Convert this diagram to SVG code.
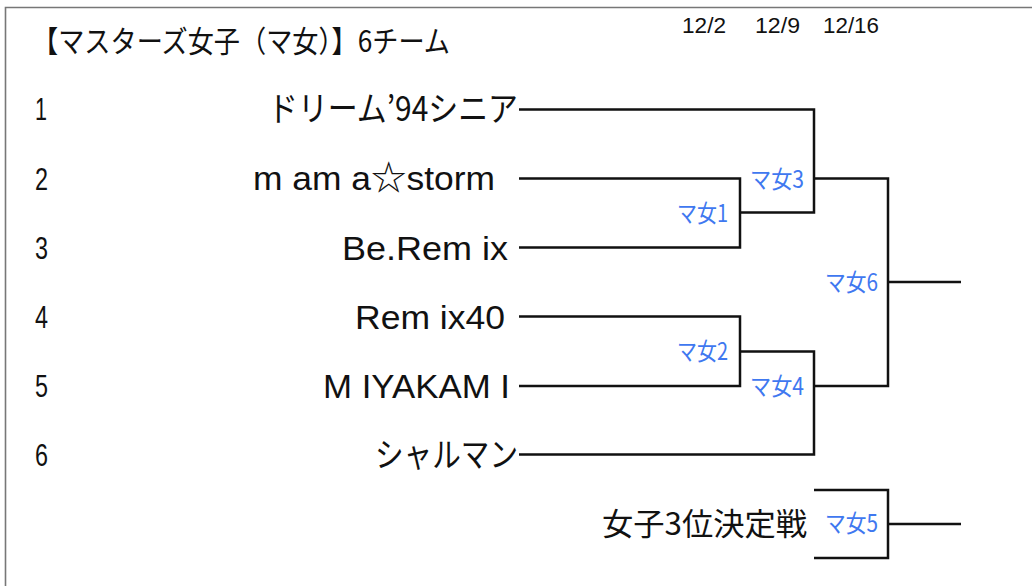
<svg xmlns="http://www.w3.org/2000/svg" width="1032" height="586" viewBox="0 0 1032 586">
<style>
.t{font-family:"Liberation Sans","Noto Sans CJK JP",sans-serif;fill:#111;}
.j{font-family:"Noto Sans CJK JP","Liberation Sans",sans-serif;fill:#111;}
.n{font-size:31px;}
.tn{font-size:34px;}
.b{font-family:"Noto Sans CJK JP","Liberation Sans",sans-serif;font-size:24px;fill:#3f78f0;}
.d{font-family:"Liberation Sans",sans-serif;font-size:22px;fill:#111;}
.ln{fill:none;stroke:#111;stroke-width:2.5;}
</style>
<rect width="1032" height="586" fill="#fff"/>
<path d="M5.5,586 V7.5 H1032" fill="none" stroke="#777" stroke-width="1.6"/>
<g id="title">
<text class="j" x="32" y="52" font-size="30" textLength="418" lengthAdjust="spacingAndGlyphs">【マスターズ女子（マ女）】6チーム</text>
</g>
<g id="dates">
<text class="d" x="682" y="33" textLength="44" lengthAdjust="spacingAndGlyphs">12/2</text>
<text class="d" x="755" y="33" textLength="45" lengthAdjust="spacingAndGlyphs">12/9</text>
<text class="d" x="823" y="33" textLength="56" lengthAdjust="spacingAndGlyphs">12/16</text>
</g>
<g id="team1">
<text class="t n" x="35" y="119.5" textLength="12" lengthAdjust="spacingAndGlyphs">1</text>
<text class="j tn" x="268" y="121" textLength="250" lengthAdjust="spacingAndGlyphs">ドリーム’94シニア</text>
</g>
<g id="team2">
<text class="t n" x="35" y="189.5" textLength="13" lengthAdjust="spacingAndGlyphs">2</text>
<text class="t tn" x="253" y="190" textLength="242" lengthAdjust="spacingAndGlyphs">m am a☆storm</text>
</g>
<g id="team3">
<text class="t n" x="35" y="259" textLength="13" lengthAdjust="spacingAndGlyphs">3</text>
<text class="t tn" x="342" y="260" textLength="166" lengthAdjust="spacingAndGlyphs">Be.Rem ix</text>
</g>
<g id="team4">
<text class="t n" x="35" y="328" textLength="13" lengthAdjust="spacingAndGlyphs">4</text>
<text class="t tn" x="355" y="329" textLength="150" lengthAdjust="spacingAndGlyphs">Rem ix40</text>
</g>
<g id="team5">
<text class="t n" x="35" y="397" textLength="13" lengthAdjust="spacingAndGlyphs">5</text>
<text class="t tn" x="323" y="398" textLength="187" lengthAdjust="spacingAndGlyphs">M IYAKAM I</text>
</g>
<g id="team6">
<text class="t n" x="35" y="466" textLength="13" lengthAdjust="spacingAndGlyphs">6</text>
<text class="j tn" x="375" y="467" textLength="143" lengthAdjust="spacingAndGlyphs">シャルマン</text>
</g>
<g id="third">
<text class="j" x="602" y="535" font-size="31" textLength="205" lengthAdjust="spacingAndGlyphs">女子3位決定戦</text>
</g>
<g id="connectors">
<path class="ln" d="M519,109.5 H814 V212.5 H740"/>
<path class="ln" d="M519,178.5 H740 V247.5 H519"/>
<path class="ln" d="M814,178.5 H888 V386 H814"/>
<path class="ln" d="M888,282 H961"/>
<path class="ln" d="M519,316.5 H740 V386 H519"/>
<path class="ln" d="M740,351.5 H814 V454.5 H519"/>
<path class="ln" d="M814,490 H888 V558 H814"/>
<path class="ln" d="M888,524 H961"/>
</g>
<g id="m1"><text class="b" x="677" y="221.5" textLength="51" lengthAdjust="spacingAndGlyphs">マ女1</text></g>
<g id="m2"><text class="b" x="677" y="360" textLength="51" lengthAdjust="spacingAndGlyphs">マ女2</text></g>
<g id="m3"><text class="b" x="750" y="188" textLength="54" lengthAdjust="spacingAndGlyphs">マ女3</text></g>
<g id="m4"><text class="b" x="750" y="395" textLength="54" lengthAdjust="spacingAndGlyphs">マ女4</text></g>
<g id="m5"><text class="b" x="825" y="532" textLength="53" lengthAdjust="spacingAndGlyphs">マ女5</text></g>
<g id="m6"><text class="b" x="825" y="290.5" textLength="53" lengthAdjust="spacingAndGlyphs">マ女6</text></g>
</svg>
